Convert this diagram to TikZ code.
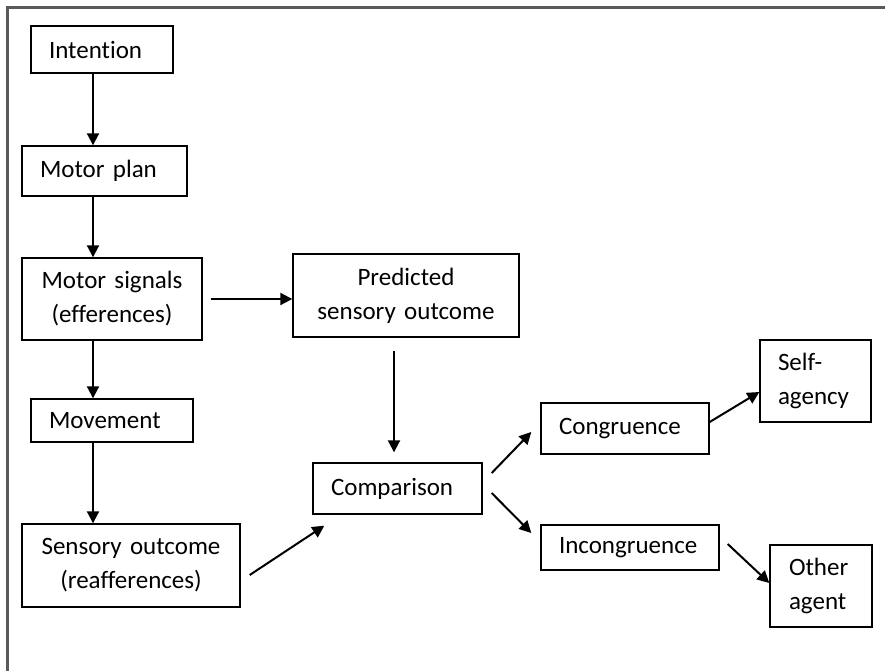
\documentclass[tikz,border=0pt]{standalone}
\usepackage{fontspec}
\setmainfont{Carlito}[Ligatures=NoCommon]
\usetikzlibrary{arrows.meta}
\definecolor{framegray}{HTML}{5A5A5A}
\begin{document}
\begin{tikzpicture}[x=1pt, y=-1pt,
  box/.style={draw, line width=1.4pt, inner ysep=0pt, inner xsep=18pt,
    font=\fontsize{25}{34}\selectfont},
  lbox/.style={box, align=left},
  cbox/.style={box, align=center},
  flow/.style={line width=2pt, -{Triangle[length=12pt, width=12pt]}}
]
\useasboundingbox (0,0) rectangle (885,671);
% outer frame (top and left edges)
\draw[framegray, line width=3pt] (885,7.5) -- (7,7.5) -- (7,671);

% column of arrows on the left
\coordinate (ax) at (93,0);

% left column
\node[lbox, text width=106pt, minimum height=47pt] (int) at (102,49.5) {Intention};
\node[lbox, text width=129pt, minimum height=50pt] (mp) at (104.5,171) {Motor plan};
\node[cbox, text width=144pt, minimum height=82pt] (ms) at (112,299) {Motor signals\\(efferences)};
\node[lbox, text width=126pt, minimum height=43pt] (mv) at (112,420.5) {Movement};
\node[cbox, text width=182pt, minimum height=83pt] (so) at (131,565.5) {Sensory outcome\\(reafferences)};

% middle
\node[cbox, text width=190pt, minimum height=83pt] (pred) at (406,295.5) {Predicted\\sensory outcome};
\node[lbox, text width=133pt, minimum height=51pt] (cmp) at (397.5,488.5) {Comparison};
\node[lbox, text width=132pt, minimum height=51pt] (cong) at (625,428.5) {Congruence};
\node[lbox, text width=142pt, minimum height=45pt] (inc) at (630,547.5) {Incongruence};

% right
\node[lbox, text width=75pt, minimum height=82pt] (self) at (815.5,381) {Self-\\agency};
\node[lbox, inner xsep=19pt, text width=64pt, minimum height=82pt] (oth) at (821,586) {Other\\agent};

% connectors
\draw[flow] (int.south -| ax) -- (mp.north -| ax);
\draw[flow] (mp.south -| ax) -- (ms.north -| ax);
\draw[flow] (ms.south -| ax) -- (mv.north -| ax);
\draw[flow] (mv.south -| ax) -- (so.north -| ax);
\draw[flow] ([xshift=8pt]ms.east) -- (pred.west |- ms.east);
\draw[flow] ([xshift=-12pt, yshift=-13pt]pred.south) -- ([xshift=-3.5pt, yshift=10pt]cmp.north);
\draw[flow] ([xshift=9pt, yshift=-9.5pt]so.east) -- ([xshift=12pt, yshift=-11pt]cmp.south west);
\draw[flow] ([xshift=9pt, yshift=15.5pt]cmp.east) -- ([xshift=-9pt, yshift=-3.5pt]cong.west);
\draw[flow] ([xshift=9pt, yshift=-4.5pt]cmp.east) -- ([xshift=-9pt, yshift=14.5pt]inc.west);
\draw[flow] ([yshift=6.5pt]cong.east) -- ([yshift=-11pt]self.west);
\draw[flow] ([xshift=8pt, yshift=3.5pt]inc.east) -- ([yshift=3pt]oth.west);
\end{tikzpicture}
\end{document}
